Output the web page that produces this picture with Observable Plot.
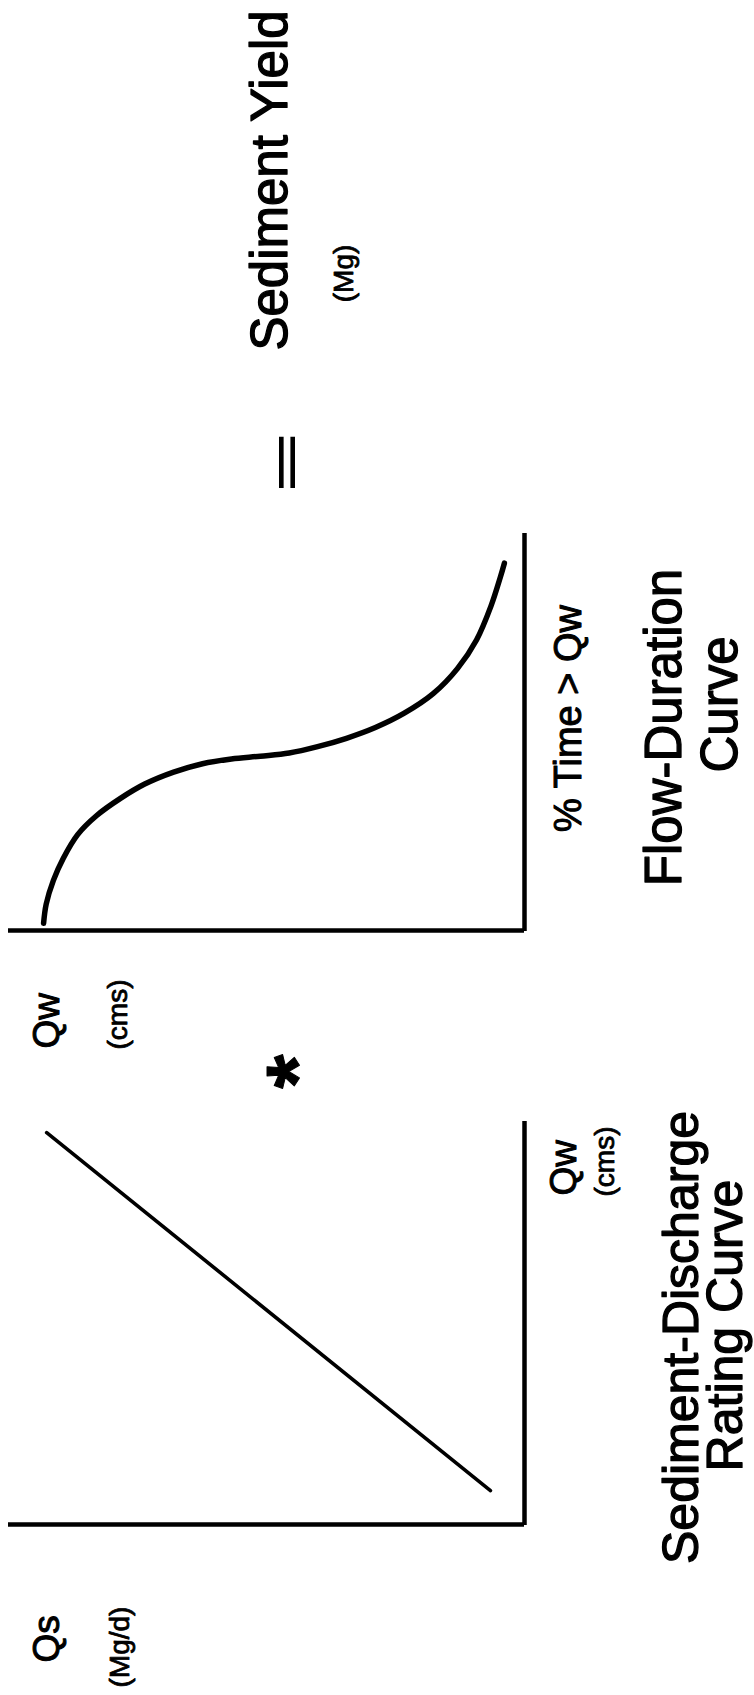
<!DOCTYPE html>
<html>
<head>
<meta charset="utf-8">
<script src="https://cdn.jsdelivr.net/npm/d3@7"></script>
<script src="https://cdn.jsdelivr.net/npm/@observablehq/plot@0.6"></script>
<style>
  html, body { margin: 0; padding: 0; background: white; }
  #page { position: relative; width: 754px; height: 1695px; overflow: hidden; background: white; }
  #land { position: absolute; left: 0; top: 0; width: 1695px; height: 754px;
          transform-origin: 0 0; transform: translate(0px, 1695px) rotate(-90deg); }
  #land svg { position: absolute; top: 0; }
</style>
</head>
<body>
<div id="page"><div id="land"></div></div>
<script>
// ---- data (arbitrary 0–100 units) ----
// Sediment-discharge rating curve (straight line)
const ratingQw = [8.4, 97.0];
const ratingQs = [6.6, 92.6];
// Flow-duration curve
const fdcPercent = [1.8, 6.6, 12.6, 18.1, 24.1, 28.9, 33.2, 36.8, 39.8, 41.9, 43.1, 43.8, 44.6, 46.2, 48.3, 51.0, 54.6, 59.5, 65.8, 73.0, 81.5, 88.7, 92.3];
const fdcQw      = [93.2, 92.7, 91.3, 89.4, 86.6, 82.9, 78.3, 73.6, 68.0, 62.4, 56.8, 51.2, 45.6, 40.1, 34.5, 28.9, 23.3, 17.7, 13.0, 9.3, 6.5, 4.7, 3.9];
// text
const p1YLabel = ["Qs", "(Mg/d)"];
const p1XLabel = ["Qw", "(cms)"];
const p1Title = ["Sediment-Discharge", "Rating Curve"];
const p2YLabel = ["Qw", "(cms)"];
const p2XLabel = ["% Time > Qw"];
const p2Title = ["Flow-Duration", "Curve"];
const operators = ["*", "="];
const result = ["Sediment Yield", "(Mg)"];

const FONT = "'Liberation Sans', Arial, Helvetica, sans-serif";
const ratingData = ratingQw.map((q, i) => ({qw: q, qs: ratingQs[i]}));
const fdcData = fdcPercent.map((p, i) => ({p, qw: fdcQw[i]}));
const T = (s, o) => Plot.text([s], {text: d => d, fill: "black", stroke: "black", lineAnchor: "bottom", ...o});

const land = document.getElementById("land");

// ---- Panel 1: rating curve ----
const p1 = Plot.plot({
  width: 600, height: 754,
  marginLeft: 170, marginRight: 26, marginTop: 8, marginBottom: 230,
  x: {domain: [0, 100], axis: null},
  y: {domain: [0, 100], axis: null},
  style: {fontFamily: FONT, background: "transparent", color: "black", overflow: "visible"},
  marks: [
    Plot.ruleX([0], {stroke: "black", strokeWidth: 4.5}),
    Plot.ruleY([0], {stroke: "black", strokeWidth: 4.5}),
    Plot.line(ratingData, {x: "qw", y: "qs", stroke: "black", strokeWidth: 3.6, strokeLinecap: "round"}),
    T(p1YLabel[0], {frameAnchor: "top-left", textAnchor: "start", dx: -138, dy: 50, fontSize: 37, strokeWidth: 1}),
    T(p1YLabel[1], {frameAnchor: "top-left", textAnchor: "start", dx: -163, dy: 120, fontSize: 28, strokeWidth: 0.8}),
    T(p1XLabel[0], {frameAnchor: "bottom-right", textAnchor: "start", dx: -75, dy: 51, fontSize: 37, strokeWidth: 1}),
    T(p1XLabel[1], {frameAnchor: "bottom-right", textAnchor: "start", dx: -76, dy: 89, fontSize: 28, strokeWidth: 0.8}),
    T(p1Title[0], {frameAnchor: "bottom", textAnchor: "middle", dx: -15, dy: 173, fontSize: 50, strokeWidth: 1.3}),
    T(p1Title[1], {frameAnchor: "bottom", textAnchor: "middle", dx: -3, dy: 217, fontSize: 50, strokeWidth: 1.3})
  ]
});
p1.style.left = "0px";
land.appendChild(p1);

// ---- Panel 2: flow-duration curve (+ operators and result) ----
const p2 = Plot.plot({
  width: 1095, height: 754,
  marginLeft: 164, marginRight: 533, marginTop: 8, marginBottom: 230,
  x: {domain: [0, 100], axis: null},
  y: {domain: [0, 100], axis: null},
  style: {fontFamily: FONT, background: "transparent", color: "black", overflow: "visible"},
  marks: [
    Plot.ruleX([0], {stroke: "black", strokeWidth: 4.5}),
    Plot.ruleY([0], {stroke: "black", strokeWidth: 4.5}),
    Plot.line(fdcData, {x: "p", y: "qw", stroke: "black", strokeWidth: 5.5, strokeLinecap: "round", curve: "catmull-rom"}),
    T(operators[0], {frameAnchor: "top-left", textAnchor: "middle", dx: -141, dy: 318, fontSize: 88, fontWeight: "bold", strokeWidth: 1}),
    T(p2YLabel[0], {frameAnchor: "top-left", textAnchor: "start", dx: -118, dy: 50, fontSize: 37, strokeWidth: 1}),
    T(p2YLabel[1], {frameAnchor: "top-left", textAnchor: "start", dx: -119, dy: 118, fontSize: 28, strokeWidth: 0.8}),
    T(p2XLabel[0], {frameAnchor: "bottom", textAnchor: "middle", dx: 13, dy: 56, fontSize: 38, strokeWidth: 1}),
    T(p2Title[0], {frameAnchor: "bottom", textAnchor: "middle", dx: 4, dy: 156, fontSize: 51, strokeWidth: 1.3}),
    T(p2Title[1], {frameAnchor: "bottom", textAnchor: "middle", dx: 27, dy: 212, fontSize: 51, strokeWidth: 1.3}),
    T(operators[1], {frameAnchor: "top-right", textAnchor: "middle", dx: 70, dy: 293, fontSize: 70, fontWeight: "bold", strokeWidth: 0}),
    T(result[0], {frameAnchor: "top-right", textAnchor: "middle", dx: 352, dy: 278, fontSize: 51, strokeWidth: 1.3}),
    T(result[1], {frameAnchor: "top-right", textAnchor: "middle", dx: 259, dy: 344, fontSize: 28, strokeWidth: 0.8})
  ]
});
p2.style.left = "600px";
land.appendChild(p2);

// squeeze the "=" sign vertically / stretch horizontally to match the drawing
d3.select(p2).selectAll("text").filter(function () { return this.textContent === "="; })
  .each(function () {
    const el = this;
    const tr = el.getAttribute("transform");
    if (tr) {
      el.setAttribute("transform", tr + " scale(1.46,0.6)");
    } else {
      const x = +el.getAttribute("x") || 0, y = +el.getAttribute("y") || 0;
      el.removeAttribute("x"); el.removeAttribute("y");
      el.setAttribute("transform", `translate(${x},${y}) scale(1.46,0.6)`);
    }
  });
</script>
</body>
</html>
